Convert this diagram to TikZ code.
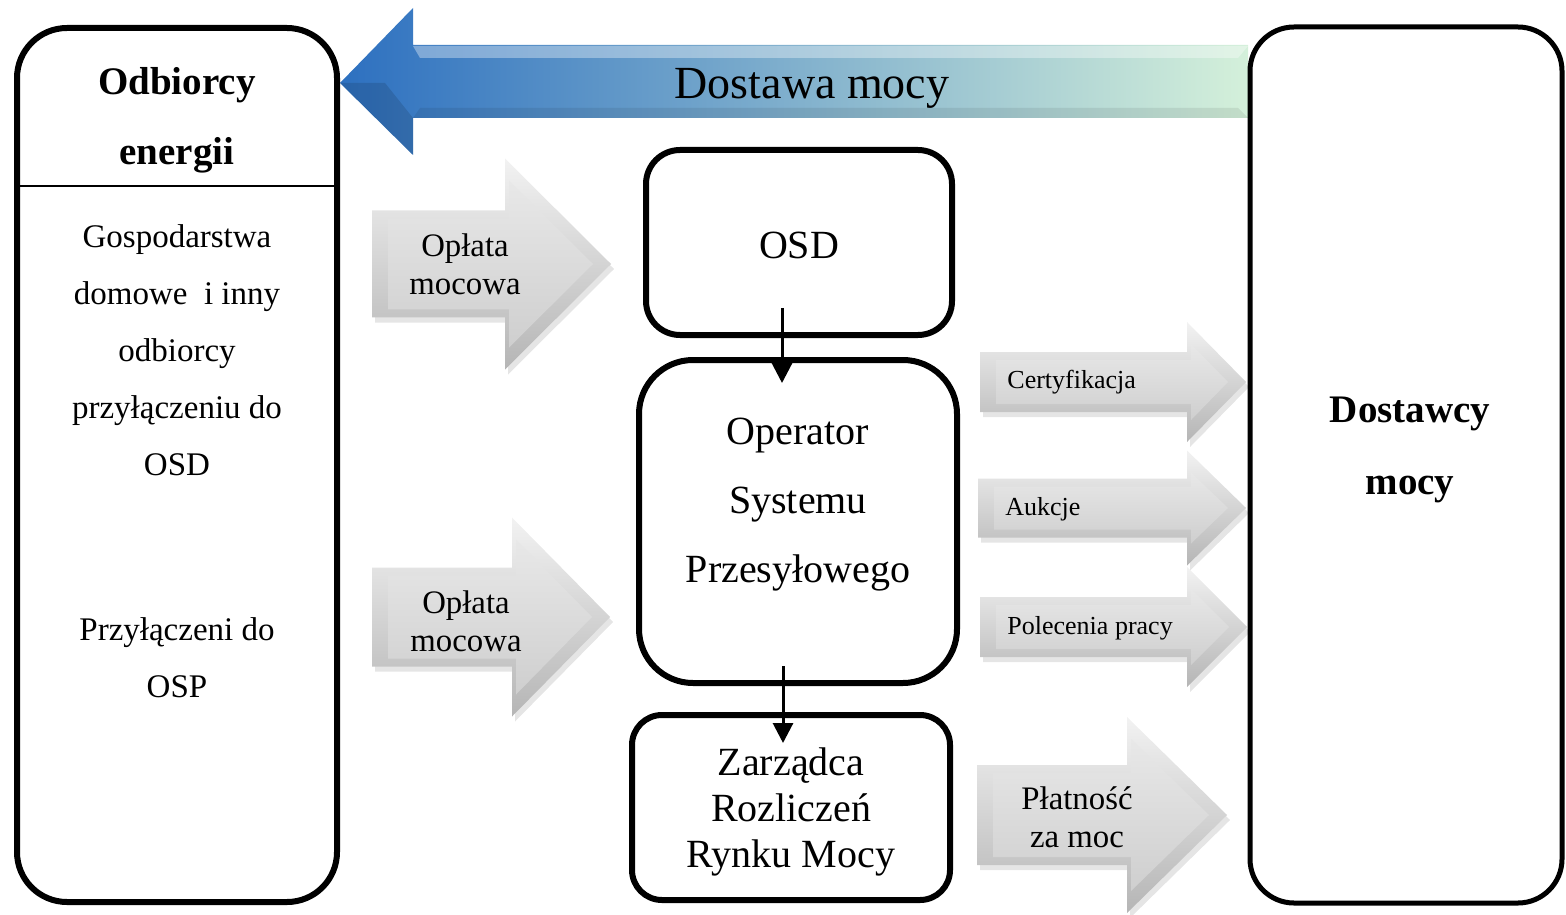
\documentclass[tikz,border=0pt]{standalone}
\usepackage{fontspec}
\setmainfont{Liberation Serif}
\usetikzlibrary{arrows.meta}

\definecolor{blueL}{RGB}{45,112,192}
\definecolor{blueM}{RGB}{100,168,178}
\definecolor{blueR}{RGB}{212,240,218}

\tikzset{
  box/.style={draw, line width=3pt, rounded corners=#1, fill=white, inner sep=0pt},
  box/.default=20pt,
  conn/.style={line width=1.5pt, -{Triangle[width=10pt,length=10pt]}},
  bigtxt/.style={font=\fontsize{20}{23}\selectfont, align=center, inner sep=0pt},
  sidetxt/.style={font=\fontsize{16.5}{28.5}\selectfont, align=center, inner sep=0pt},
  arrtxt/.style={font=\fontsize{16.4}{19}\selectfont, align=center, inner sep=0pt},
  smalltxt/.style={font=\fontsize{13}{15}\selectfont, anchor=west, inner sep=0pt}
}

% gray bevelled arrow: x left, x neck, x tip, y centre, half shaft, half head
\newcommand{\grayarrow}[6]{%
  \fill[black,opacity=.10] (#1+3,#4-#5+5) -- (#2+3,#4-#5+5) -- (#2+3,#4-#6+5) -- (#3+3,#4+5)
    -- (#2+3,#4+#6+5) -- (#2+3,#4+#5+5) -- (#1+3,#4+#5+5) -- cycle;
  \shade[top color=gray!10, bottom color=gray!58] (#1,#4-#5) -- (#2,#4-#5) -- (#2,#4-#6) -- (#3,#4)
    -- (#2,#4+#6) -- (#2,#4+#5) -- (#1,#4+#5) -- cycle;
  \shade[top color=gray!18, bottom color=gray!38] (#1+16,#4-#5+8) -- (#2+4,#4-#5+8) -- (#2+4,#4-#6+22) -- (#3-18,#4)
    -- (#2+4,#4+#6-22) -- (#2+4,#4+#5-8) -- (#1+16,#4+#5-8) -- cycle;
}

\begin{document}
\begin{tikzpicture}[x=0.5pt,y=-0.5pt]
\useasboundingbox (0,0) rectangle (1566,914);

% big arrow on top
\shade[left color=blueL, middle color=blueM, right color=blueR]
  (340,83) -- (413,8) -- (413,45) -- (1248,45) -- (1248,118) -- (413,118) -- (413,155) -- cycle;
\fill[white,opacity=.35] (413,46) -- (1248,46) -- (1238,58) -- (420,58) -- cycle;
\fill[black,opacity=.12] (340,83) -- (413,155) -- (413,118) -- (385,83) -- cycle;
\fill[black,opacity=.08] (420,108) -- (1238,108) -- (1248,118) -- (413,118) -- cycle;
\node[font=\fontsize{23}{26}\selectfont, inner sep=0pt] (supply) at (812,88) {Dostawa mocy};

% boxes
\node[box=25pt, minimum width=160pt, minimum height=437pt] (odbiorcy) at (177,465) {};
\node[box=22pt, line width=2.5pt, minimum width=156pt, minimum height=438pt] (dostawcy) at (1406,465) {};
\node[box=17pt, minimum width=153pt, minimum height=92.5pt] (osd) at (799,242.5) {};
\node[box=27pt, minimum width=159pt, minimum height=161.5pt] (osp) at (798,521.5) {};
\node[box=15pt, minimum width=159pt, minimum height=92.5pt] (zrrm) at (791,807.5) {};

\draw[line width=0.8pt] (20,186) -- (334,186);
\node[font=\bfseries\fontsize{19.5}{35}\selectfont, align=center, inner sep=0pt] (odbT) at (177,120) {Odbiorcy\\energii};
\node[sidetxt] (grpA) at (177,350) {Gospodarstwa\\domowe\ \ i inny\\odbiorcy\\przyłączeniu do\\OSD};
\node[sidetxt] (grpB) at (177,658) {Przyłączeni do\\OSP};
\node[font=\bfseries\fontsize{19.5}{36}\selectfont, align=center, inner sep=0pt] (dostT) at (1410,450) {Dostawcy\\mocy};
\node[bigtxt] (osdT) at (799,245) {OSD};
\node[bigtxt, font=\fontsize{20}{34.5}\selectfont] (ospT) at (798,505) {Operator\\Systemu\\Przesyłowego};
\node[bigtxt] (zrrmT) at (791,812) {Zarządca\\Rozliczeń\\Rynku Mocy};

% gray arrows
\grayarrow{372}{505}{611}{264}{53.5}{105.5}
\grayarrow{372}{512}{610}{617}{49.5}{99.5}
\grayarrow{980}{1187}{1246}{382}{30}{60}
\grayarrow{978}{1187}{1246}{508}{29.5}{57.5}
\grayarrow{980}{1187}{1247}{627}{30}{60}
\grayarrow{977}{1127}{1227}{815}{50}{98}

\node[arrtxt] (fee1) at (465,264) {Opłata\\mocowa};
\node[arrtxt] (fee2) at (466,621) {Opłata\\mocowa};
\node[smalltxt] (cert) at (1007,382) {Certyfikacja};
\node[smalltxt] (auct) at (1005,509) {Aukcje};
\node[smalltxt] (disp) at (1007,628) {Polecenia pracy};
\node[arrtxt] (pay) at (1077,817) {Płatność\\za moc};

% connectors
\draw[conn, shorten <=-15pt, shorten >=-13pt] ([xshift=-8.5pt]osd.south) -- ([xshift=-8.5pt]osd.south |- osp.north);
\draw[conn, shorten <=-10pt, shorten >=-15.5pt] ([xshift=-7.5pt]osp.south) -- ([xshift=-7.5pt]osp.south |- zrrm.north);
\end{tikzpicture}
\end{document}
